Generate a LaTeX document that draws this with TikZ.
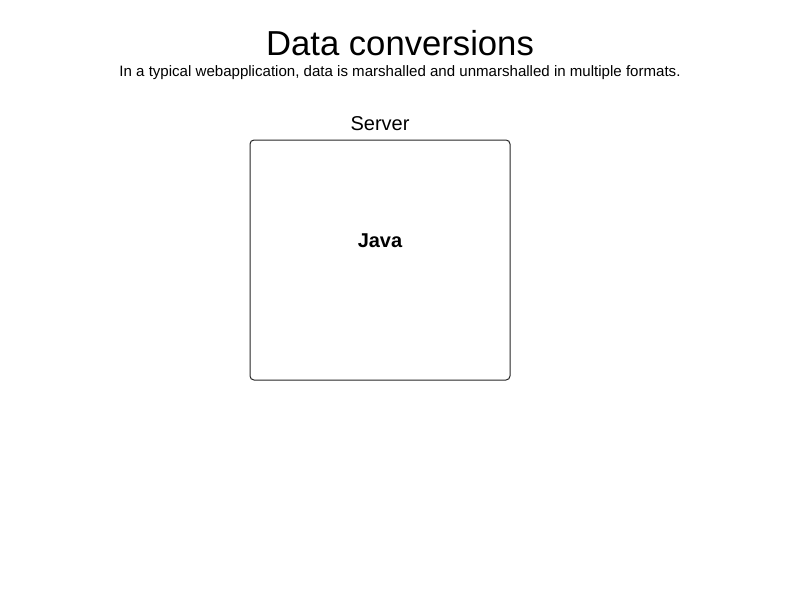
\documentclass[tikz,border=0pt]{standalone}
\usepackage{fontspec}
\setmainfont{Liberation Sans}
\usetikzlibrary{positioning}
\tikzset{
 tier/.style={draw=black!85, line width=0.75pt, rounded corners=3pt, minimum width=195pt, minimum height=180pt},
 tiername/.style={font=\fontsize{15}{18}\selectfont},
 lang/.style={font=\fontsize{15}{18}\selectfont\bfseries},
}
\begin{document}
\begin{tikzpicture}[x=0.75pt,y=-0.75pt]
 \useasboundingbox (0,0) rectangle (800,600);
 \node (title) [anchor=base, font=\fontsize{26}{30}\selectfont] at (400,55) {Data conversions};
 \node (subtitle) [anchor=base, font=\fontsize{11.3}{13}\selectfont] at (400,76) {In a typical webapplication, data is marshalled and unmarshalled in multiple formats.};

 \node (server) [tier] at (380,260) {};
 \node (servername) [tiername, anchor=base] at (380,130) {Server};
 \node (java) [lang, anchor=base] at (380,247) {Java};
\end{tikzpicture}
\end{document}
